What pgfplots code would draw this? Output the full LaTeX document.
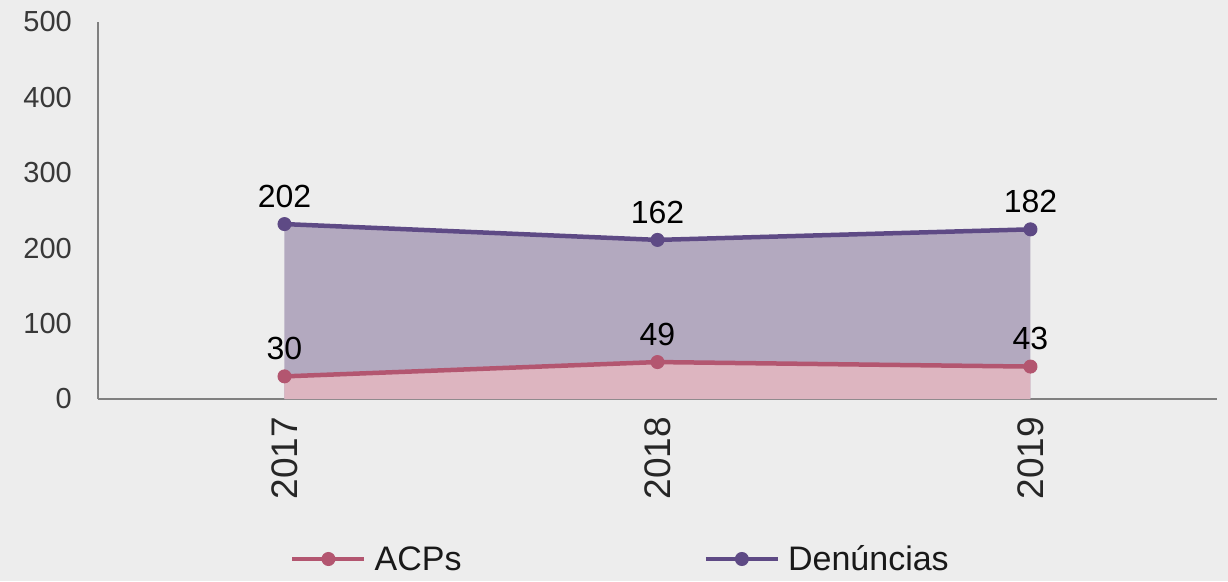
\documentclass[border=0pt]{standalone}
\usepackage{pgfplots}
\pgfplotsset{compat=1.18}
\usepackage{fontspec}
\setmainfont{Liberation Sans}
\definecolor{bg}{HTML}{EDEDED}
\definecolor{acpline}{HTML}{B35670}
\definecolor{acpfill}{HTML}{DDB5C0}
\definecolor{denline}{HTML}{5E4A85}
\definecolor{denfill}{HTML}{B3A9BF}
\begin{document}
\begin{tikzpicture}
\fill[bg] (-98pt,-182pt) rectangle (1130pt,399pt);
\begin{axis}[
  at={(0,0)}, anchor=south west,
  scale only axis, width=1119pt, height=377pt,
  xmin=-0.5, xmax=2.5, ymin=0, ymax=500,
  xtick={0,1,2}, xticklabels={2017,2018,2019},
  ytick={0,100,200,300,400,500},
  axis x line*=bottom, axis y line*=left,
  axis line style={draw=black!50, line width=1.3pt, -},
  major tick length=0pt,
  clip=false,
  /pgf/number format/assume math mode=true,
  yticklabel style={font=\fontsize{29}{29}\selectfont, text=black!78, inner sep=0pt, xshift=-26pt},
  xticklabel style={font=\fontsize{37}{37}\selectfont, text=black!85, inner sep=0pt, yshift=-18pt, rotate=90, anchor=east},
  legend columns=2,
  legend style={at={(0.1716,-0.4244)}, anchor=west, draw=none, fill=none, inner sep=0pt,
    font=\fontsize{34}{34}\selectfont, text=black!90,
    nodes={inner sep=0pt},
    /tikz/every odd column/.append style={column sep=8pt},
    /tikz/every even column/.append style={column sep=242pt}},
  legend image code/.code={\draw[#1, mark repeat=2, mark phase=2] plot coordinates {(0pt,0pt) (36pt,0pt) (72pt,0pt)};},
  nodes near coords,
  point meta=explicit,
  every node near coord/.append style={font=\fontsize{32}{32}\selectfont, text=black, anchor=south, inner sep=0pt, yshift=16pt},
]
% areas (stacked totals)
\addplot[draw=none, fill=denfill, forget plot, nodes near coords=] coordinates {(0,232) [0] (1,211) [0] (2,225) [0]} \closedcycle;
\addplot[draw=none, fill=acpfill, forget plot, nodes near coords=] coordinates {(0,30) [0] (1,49) [0] (2,43) [0]} \closedcycle;
% lines
\addplot[acpline, line width=4.5pt, mark=*, mark size=6.5pt, mark options={solid, fill=acpline, draw=acpline, line width=1pt}]
  coordinates {(0,30) [30] (1,49) [49] (2,43) [43]};
\addlegendentry{ACPs}
\addplot[denline, line width=4.5pt, mark=*, mark size=6.5pt, mark options={solid, fill=denline, draw=denline, line width=1pt}]
  coordinates {(0,232) [202] (1,211) [162] (2,225) [182]};
\addlegendentry{Denúncias}
\end{axis}
\end{tikzpicture}
\end{document}
